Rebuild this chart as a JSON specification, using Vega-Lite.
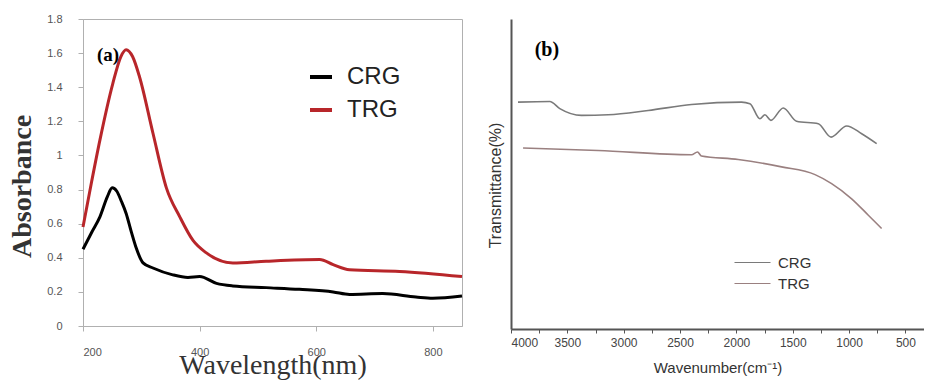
{
  "$schema": "https://vega.github.io/schema/vega-lite/v6.json",
  "background": "white",
  "padding": {"left": 8, "top": 12, "right": 0, "bottom": 0},
  "spacing": 18,
  "config": {"font": "Liberation Sans"},
  "datasets": {
    "uv": [
      {"wl": 200, "abs": 0.45, "sample": "CRG"},
      {"wl": 215, "abs": 0.55, "sample": "CRG"},
      {"wl": 229, "abs": 0.64, "sample": "CRG"},
      {"wl": 242, "abs": 0.76, "sample": "CRG"},
      {"wl": 250, "abs": 0.81, "sample": "CRG"},
      {"wl": 258, "abs": 0.79, "sample": "CRG"},
      {"wl": 266, "abs": 0.73, "sample": "CRG"},
      {"wl": 274, "abs": 0.66, "sample": "CRG"},
      {"wl": 283, "abs": 0.55, "sample": "CRG"},
      {"wl": 291, "abs": 0.46, "sample": "CRG"},
      {"wl": 303, "abs": 0.37, "sample": "CRG"},
      {"wl": 320, "abs": 0.34, "sample": "CRG"},
      {"wl": 354, "abs": 0.30, "sample": "CRG"},
      {"wl": 380, "abs": 0.285, "sample": "CRG"},
      {"wl": 400, "abs": 0.29, "sample": "CRG"},
      {"wl": 429, "abs": 0.25, "sample": "CRG"},
      {"wl": 457, "abs": 0.235, "sample": "CRG"},
      {"wl": 514, "abs": 0.225, "sample": "CRG"},
      {"wl": 571, "abs": 0.215, "sample": "CRG"},
      {"wl": 629, "abs": 0.20, "sample": "CRG"},
      {"wl": 657, "abs": 0.185, "sample": "CRG"},
      {"wl": 714, "abs": 0.19, "sample": "CRG"},
      {"wl": 771, "abs": 0.17, "sample": "CRG"},
      {"wl": 800, "abs": 0.163, "sample": "CRG"},
      {"wl": 850, "abs": 0.176, "sample": "CRG"},
      {"wl": 200, "abs": 0.58, "sample": "TRG"},
      {"wl": 215, "abs": 0.85, "sample": "TRG"},
      {"wl": 229, "abs": 1.09, "sample": "TRG"},
      {"wl": 251, "abs": 1.42, "sample": "TRG"},
      {"wl": 265, "abs": 1.58, "sample": "TRG"},
      {"wl": 274, "abs": 1.62, "sample": "TRG"},
      {"wl": 285, "abs": 1.58, "sample": "TRG"},
      {"wl": 297, "abs": 1.46, "sample": "TRG"},
      {"wl": 320, "abs": 1.13, "sample": "TRG"},
      {"wl": 343, "abs": 0.81, "sample": "TRG"},
      {"wl": 366, "abs": 0.64, "sample": "TRG"},
      {"wl": 389, "abs": 0.50, "sample": "TRG"},
      {"wl": 411, "abs": 0.43, "sample": "TRG"},
      {"wl": 457, "abs": 0.37, "sample": "TRG"},
      {"wl": 514, "abs": 0.38, "sample": "TRG"},
      {"wl": 606, "abs": 0.39, "sample": "TRG"},
      {"wl": 629, "abs": 0.36, "sample": "TRG"},
      {"wl": 657, "abs": 0.33, "sample": "TRG"},
      {"wl": 743, "abs": 0.32, "sample": "TRG"},
      {"wl": 850, "abs": 0.29, "sample": "TRG"}
    ],
    "ir": [
      {"wn": 3938, "t": 73.2, "sample": "CRG"},
      {"wn": 3656, "t": 73.4, "sample": "CRG"},
      {"wn": 3567, "t": 71.1, "sample": "CRG"},
      {"wn": 3375, "t": 68.9, "sample": "CRG"},
      {"wn": 3138, "t": 69.1, "sample": "CRG"},
      {"wn": 2783, "t": 70.5, "sample": "CRG"},
      {"wn": 2398, "t": 72.4, "sample": "CRG"},
      {"wn": 1954, "t": 73.2, "sample": "CRG"},
      {"wn": 1880, "t": 72.7, "sample": "CRG"},
      {"wn": 1791, "t": 67.8, "sample": "CRG"},
      {"wn": 1747, "t": 69.1, "sample": "CRG"},
      {"wn": 1694, "t": 67.3, "sample": "CRG"},
      {"wn": 1584, "t": 71.3, "sample": "CRG"},
      {"wn": 1466, "t": 67.0, "sample": "CRG"},
      {"wn": 1273, "t": 66.2, "sample": "CRG"},
      {"wn": 1160, "t": 61.9, "sample": "CRG"},
      {"wn": 1021, "t": 65.5, "sample": "CRG"},
      {"wn": 888, "t": 63.0, "sample": "CRG"},
      {"wn": 755, "t": 59.8, "sample": "CRG"},
      {"wn": 3893, "t": 58.4, "sample": "TRG"},
      {"wn": 3227, "t": 57.6, "sample": "TRG"},
      {"wn": 2398, "t": 56.2, "sample": "TRG"},
      {"wn": 2345, "t": 57.1, "sample": "TRG"},
      {"wn": 2310, "t": 55.8, "sample": "TRG"},
      {"wn": 1984, "t": 54.7, "sample": "TRG"},
      {"wn": 1599, "t": 52.3, "sample": "TRG"},
      {"wn": 1302, "t": 49.8, "sample": "TRG"},
      {"wn": 1155, "t": 46.9, "sample": "TRG"},
      {"wn": 977, "t": 42.0, "sample": "TRG"},
      {"wn": 829, "t": 36.7, "sample": "TRG"},
      {"wn": 711, "t": 32.4, "sample": "TRG"}
    ],
    "labA": [{"wl": 224, "abs": 1.59, "txt": "(a)"}],
    "labB": [{"wn": 3790, "t": 90, "txt": "(b)"}]
  },
  "resolve": {"scale": {"color": "independent"}, "legend": {"color": "independent"}},
  "hconcat": [
    {
      "width": 379,
      "height": 307,
      "view": {"stroke": "#b0b0b0"},
      "encoding": {
        "x": {"field": "wl", "type": "quantitative",
          "scale": {"domain": [200, 850], "nice": false},
          "axis": {"values": [200, 400, 600, 800], "title": "Wavelength(nm)", "grid": false,
            "domainColor": "#b0b0b0", "tickColor": "#b0b0b0", "tickSize": 5,
            "labelColor": "#555", "labelFontSize": 11, "labelPadding": 15, "labelOverlap": false,
            "titleFont": "Liberation Serif", "titleFontSize": 28, "titleFontWeight": "normal",
            "titleColor": "#333", "titlePadding": -6}},
        "y": {"field": "abs", "type": "quantitative",
          "scale": {"domain": [0, 1.8], "nice": false},
          "axis": {"values": [0, 0.2, 0.4, 0.6, 0.8, 1, 1.2, 1.4, 1.6, 1.8], "format": "~g",
            "title": "Absorbance", "grid": false, "labelOverlap": false,
            "domainColor": "#b0b0b0", "tickColor": "#b0b0b0", "tickSize": 5,
            "labelColor": "#555", "labelFontSize": 11, "labelPadding": 16,
            "titleFont": "Liberation Serif", "titleFontSize": 28, "titleFontWeight": "bold",
            "titleColor": "#333", "titlePadding": 10, "titleY": 167}}
      },
      "layer": [
        {
          "data": {"name": "uv"},
          "mark": {"type": "line", "strokeWidth": 3, "interpolate": "monotone"},
          "encoding": {
            "color": {"field": "sample", "type": "nominal",
              "scale": {"domain": ["CRG", "TRG"], "range": ["#000000", "#b8262a"]},
              "legend": {"title": null, "orient": "none", "legendX": 225, "legendY": 45,
                "symbolType": "stroke", "symbolSize": 484, "symbolStrokeWidth": 4,
                "labelFontSize": 24, "labelColor": "#222", "labelOffset": 13,
                "rowPadding": 8, "padding": 0}}
          }
        },
        {
          "data": {"name": "labA"},
          "mark": {"type": "text", "align": "left", "baseline": "middle",
            "font": "Liberation Serif", "fontWeight": "bold", "fontSize": 19, "color": "#000"},
          "encoding": {
            "text": {"field": "txt"}
          }
        }
      ]
    },
    {
      "width": 413,
      "height": 310,
      "view": {"stroke": null},
      "encoding": {
        "x": {"field": "wn", "type": "quantitative",
          "scale": {"domain": [335, 4000], "nice": false, "reverse": true},
          "axis": {"values": [4000, 3750, 3500, 3250, 3000, 2750, 2500, 2250, 2000, 1750, 1500, 1250, 1000, 750, 500],
            "labelExpr": "datum.value % 500 == 0 ? datum.label : ''",
            "format": "d", "labelOverlap": false,
            "title": "Wavenumber(cm⁻¹)", "grid": false,
            "domainColor": "#555", "domainWidth": 2, "tickColor": "#555", "tickSize": 4,
            "labelColor": "#444", "labelFontSize": 12, "labelPadding": 4,
            "titleFontSize": 15, "titleFontWeight": "normal", "titleColor": "#333", "titlePadding": 12}},
        "y": {"field": "t", "type": "quantitative",
          "scale": {"domain": [0, 100], "nice": false},
          "axis": {"title": "Transmittance(%)", "labels": false, "ticks": false, "grid": false,
            "domainColor": "#555", "domainWidth": 2,
            "titleFontSize": 16, "titleFontWeight": "normal", "titleColor": "#333", "titlePadding": 8, "titleY": 166}}
      },
      "layer": [
        {
          "data": {"name": "ir"},
          "mark": {"type": "line", "strokeWidth": 1.6, "interpolate": "monotone"},
          "encoding": {
            "color": {"field": "sample", "type": "nominal",
              "scale": {"domain": ["CRG", "TRG"], "range": ["#7a7a7a", "#9a8080"]},
              "legend": {"title": null, "orient": "none", "legendX": 234, "legendY": 236,
                "symbolType": "M-3,0H3", "symbolSize": 144, "symbolStrokeWidth": 1.2,
                "labelFontSize": 15, "labelColor": "#333", "labelOffset": 18,
                "rowPadding": 5, "padding": 0}}
          }
        },
        {
          "data": {"name": "labB"},
          "mark": {"type": "text", "align": "left", "baseline": "middle",
            "font": "Liberation Serif", "fontWeight": "bold", "fontSize": 20, "color": "#000"},
          "encoding": {
            "text": {"field": "txt"}
          }
        }
      ]
    }
  ]
}
